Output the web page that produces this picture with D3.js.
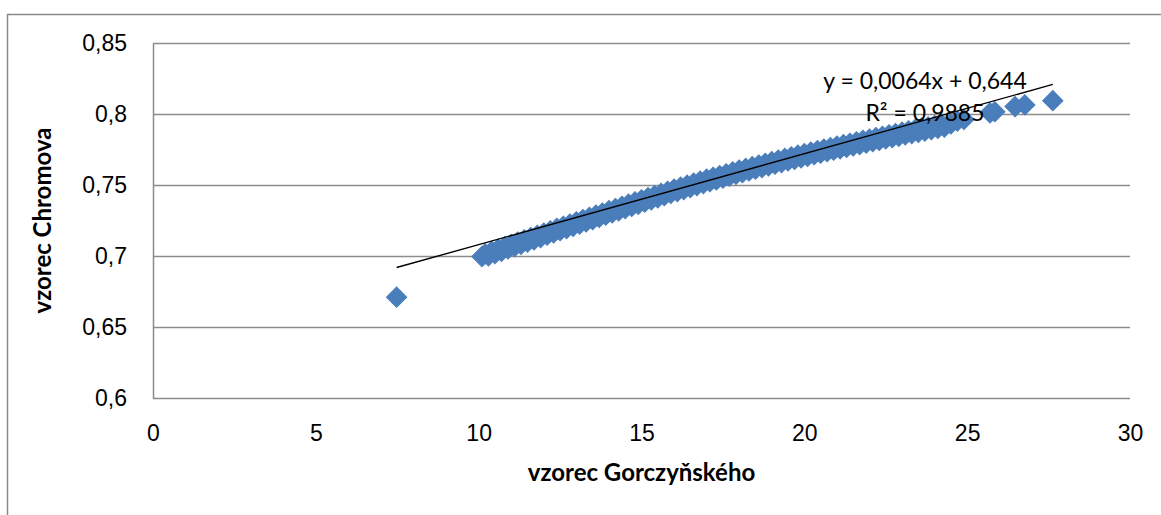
<!DOCTYPE html>
<html>
<head>
<meta charset="utf-8">
<script src="https://cdn.jsdelivr.net/npm/d3@7"></script>
<style>
  body { margin: 0; background: #fff; }
  svg { display: block; font-family: Lato, "Open Sans", sans-serif; }
</style>
</head>
<body>
<div id="chartContainer"></div>
<script>
// Tick values on both axes.
const xTicks = [0, 5, 10, 15, 20, 25, 30];
const yTicks = [0.6, 0.65, 0.7, 0.75, 0.8, 0.85];

// Lone point at the low end.
const outlierX = [7.48];
const outlierY = [0.671];

// Lower edge of the dense band.
const lowerX = [10.1, 10.3, 10.5, 10.7, 10.9, 11.1, 11.3, 11.5, 11.7, 11.9,
  12.1, 12.3, 12.5, 12.7, 12.9, 13.1, 13.3, 13.5, 13.7, 13.9,
  14.1, 14.3, 14.5, 14.7, 14.9, 15.1, 15.3, 15.5, 15.7, 15.9,
  16.1, 16.3, 16.5, 16.7, 16.9, 17.1, 17.3, 17.5, 17.7, 17.9,
  18.1, 18.3, 18.5, 18.7, 18.9, 19.1, 19.3, 19.5, 19.7, 19.9,
  20.1, 20.3, 20.5, 20.7, 20.9, 21.1, 21.3, 21.5, 21.7, 21.9,
  22.1, 22.3, 22.5, 22.7, 22.9, 23.1, 23.3, 23.5, 23.7, 23.9,
  24.1, 24.3];
const lowerY = [0.6996, 0.7001, 0.7017, 0.7033, 0.7050, 0.7066, 0.7082, 0.7098, 0.7114, 0.7130,
  0.7146, 0.7162, 0.7178, 0.7193, 0.7209, 0.7225, 0.7240, 0.7256, 0.7272, 0.7287,
  0.7303, 0.7318, 0.7334, 0.7349, 0.7364, 0.7380, 0.7395, 0.7410, 0.7425, 0.7440,
  0.7454, 0.7468, 0.7482, 0.7496, 0.7510, 0.7523, 0.7536, 0.7549, 0.7562, 0.7575,
  0.7587, 0.7599, 0.7611, 0.7623, 0.7635, 0.7647, 0.7658, 0.7669, 0.7680, 0.7691,
  0.7702, 0.7713, 0.7724, 0.7734, 0.7745, 0.7755, 0.7765, 0.7775, 0.7785, 0.7795,
  0.7805, 0.7814, 0.7824, 0.7834, 0.7843, 0.7853, 0.7862, 0.7871, 0.7880, 0.7889,
  0.7899, 0.7908];

// Upper edge of the dense band.
const upperX = [10.2, 10.4, 10.6, 10.8, 11.0, 11.2, 11.4, 11.6, 11.8, 12.0,
  12.2, 12.4, 12.6, 12.8, 13.0, 13.2, 13.4, 13.6, 13.8, 14.0,
  14.2, 14.4, 14.6, 14.8, 15.0, 15.2, 15.4, 15.6, 15.8, 16.0,
  16.2, 16.4, 16.6, 16.8, 17.0, 17.2, 17.4, 17.6, 17.8, 18.0,
  18.2, 18.4, 18.6, 18.8, 19.0, 19.2, 19.4, 19.6, 19.8, 20.0,
  20.2, 20.4, 20.6, 20.8, 21.0, 21.2, 21.4, 21.6, 21.8, 22.0,
  22.2, 22.4, 22.6, 22.8, 23.0, 23.2, 23.4, 23.6, 23.8, 24.0,
  24.2];
const upperY = [0.7016, 0.7033, 0.7049, 0.7066, 0.7082, 0.7098, 0.7114, 0.7130, 0.7146, 0.7162,
  0.7178, 0.7194, 0.7209, 0.7225, 0.7241, 0.7257, 0.7272, 0.7288, 0.7303, 0.7319,
  0.7334, 0.7350, 0.7365, 0.7381, 0.7396, 0.7411, 0.7426, 0.7441, 0.7456, 0.7471,
  0.7485, 0.7499, 0.7513, 0.7527, 0.7541, 0.7554, 0.7567, 0.7579, 0.7592, 0.7605,
  0.7617, 0.7629, 0.7641, 0.7653, 0.7665, 0.7676, 0.7687, 0.7699, 0.7710, 0.7721,
  0.7732, 0.7742, 0.7753, 0.7763, 0.7774, 0.7784, 0.7794, 0.7804, 0.7814, 0.7824,
  0.7834, 0.7843, 0.7853, 0.7862, 0.7872, 0.7881, 0.7890, 0.7900, 0.7909, 0.7918,
  0.7927];

// Sparse points at the high end.
const tailX = [24.5, 24.7, 24.9, 25.7, 25.85, 26.47, 26.77, 27.63];
const tailY = [0.7930, 0.7950, 0.7962, 0.8008, 0.8016, 0.8052, 0.8064, 0.8094];

// Linear trend shown on the chart.
const trendSlope = 0.0064;
const trendIntercept = 0.644;
const trendLabel = ["y = 0,0064x + 0,644", "R² = 0,9885"];

const xTitle = "vzorec Gorczyňského";
const yTitle = "vzorec Chromova";

function createChart() {
    const width = 1161;
    const height = 515;
    const plot = { left: 153, right: 1130, top: 43, bottom: 398 };

    const x = d3.scaleLinear().domain([0, 30]).range([plot.left, plot.right]);
    const y = d3.scaleLinear().domain([0.6, 0.85]).range([plot.bottom, plot.top]);

    const locale = d3.formatLocale({ decimal: ",", thousands: " ", grouping: [3], currency: ["", ""] });
    const fmt = locale.format(".2~f");

    const svg = d3.create("svg")
        .attr("width", width)
        .attr("height", height)
        .attr("viewBox", `0 0 ${width} ${height}`);

    // Outer chart border (cut off on the right and bottom).
    svg.append("rect")
        .attr("x", 7.5).attr("y", 14.5)
        .attr("width", 1170).attr("height", 520)
        .attr("fill", "none")
        .attr("stroke", "#8a8a8a")
        .attr("stroke-width", 1.5);

    // Y axis with horizontal gridlines.
    const yAxis = svg.append("g")
        .attr("transform", `translate(${plot.left},0)`)
        .call(d3.axisLeft(y).tickValues(yTicks).tickFormat(fmt)
            .tickSizeInner(-(plot.right - plot.left)).tickSizeOuter(0).tickPadding(26));
    yAxis.select(".domain").attr("stroke", "#8c8c8c").attr("stroke-width", 1.5);
    yAxis.selectAll(".tick line").attr("stroke", "#8c8c8c").attr("stroke-width", 1.5);
    yAxis.selectAll(".tick text")
        .attr("fill", "#000")
        .style("font-size", "23px")
        .attr("dy", "0.32em");

    // X axis labels only.
    const xAxis = svg.append("g")
        .attr("transform", `translate(0,${plot.bottom})`)
        .call(d3.axisBottom(x).tickValues(xTicks).tickFormat(fmt)
            .tickSize(0).tickPadding(27));
    xAxis.select(".domain").remove();
    xAxis.selectAll(".tick text")
        .attr("fill", "#000")
        .style("font-size", "23px");

    // Points.
    const points = []
        .concat(outlierX.map((v, i) => [v, outlierY[i]]))
        .concat(lowerX.map((v, i) => [v, lowerY[i]]))
        .concat(upperX.map((v, i) => [v, upperY[i]]))
        .concat(tailX.map((v, i) => [v, tailY[i]]));

    const diamond = d3.symbol(d3.symbolSquare, 200);
    svg.append("g")
        .selectAll("path")
        .data(points)
        .join("path")
        .attr("d", diamond)
        .attr("transform", d => `translate(${x(d[0])},${y(d[1])}) rotate(45)`)
        .attr("fill", "#4a7ebb")
        .attr("stroke", "#4a7ebb")
        .attr("stroke-width", 1.2);

    // Trend line spanning the data range.
    const xMin = d3.min(points, d => d[0]);
    const xMax = d3.max(points, d => d[0]);
    svg.append("line")
        .attr("x1", x(xMin)).attr("y1", y(trendSlope * xMin + trendIntercept))
        .attr("x2", x(xMax)).attr("y2", y(trendSlope * xMax + trendIntercept))
        .attr("stroke", "#000")
        .attr("stroke-width", 1.4);

    // Trend equation label.
    svg.append("g")
        .attr("text-anchor", "middle")
        .style("font-size", "23px")
        .selectAll("text")
        .data(trendLabel)
        .join("text")
        .attr("x", 925)
        .attr("y", (d, i) => 89 + i * 32)
        .attr("fill", "#000")
        .text(d => d);

    // Axis titles.
    svg.append("text")
        .attr("x", (plot.left + plot.right) / 2)
        .attr("y", 481)
        .attr("text-anchor", "middle")
        .style("font-size", "24px")
        .style("font-weight", "bold")
        .text(xTitle);

    svg.append("text")
        .attr("transform", `translate(51,${(plot.top + plot.bottom) / 2}) rotate(-90)`)
        .attr("text-anchor", "middle")
        .style("font-size", "24px")
        .style("font-weight", "bold")
        .text(yTitle);

    return svg.node();
}

document.addEventListener('DOMContentLoaded', function () {
    document.getElementById('chartContainer').appendChild(createChart());
});
</script>
</body>
</html>
